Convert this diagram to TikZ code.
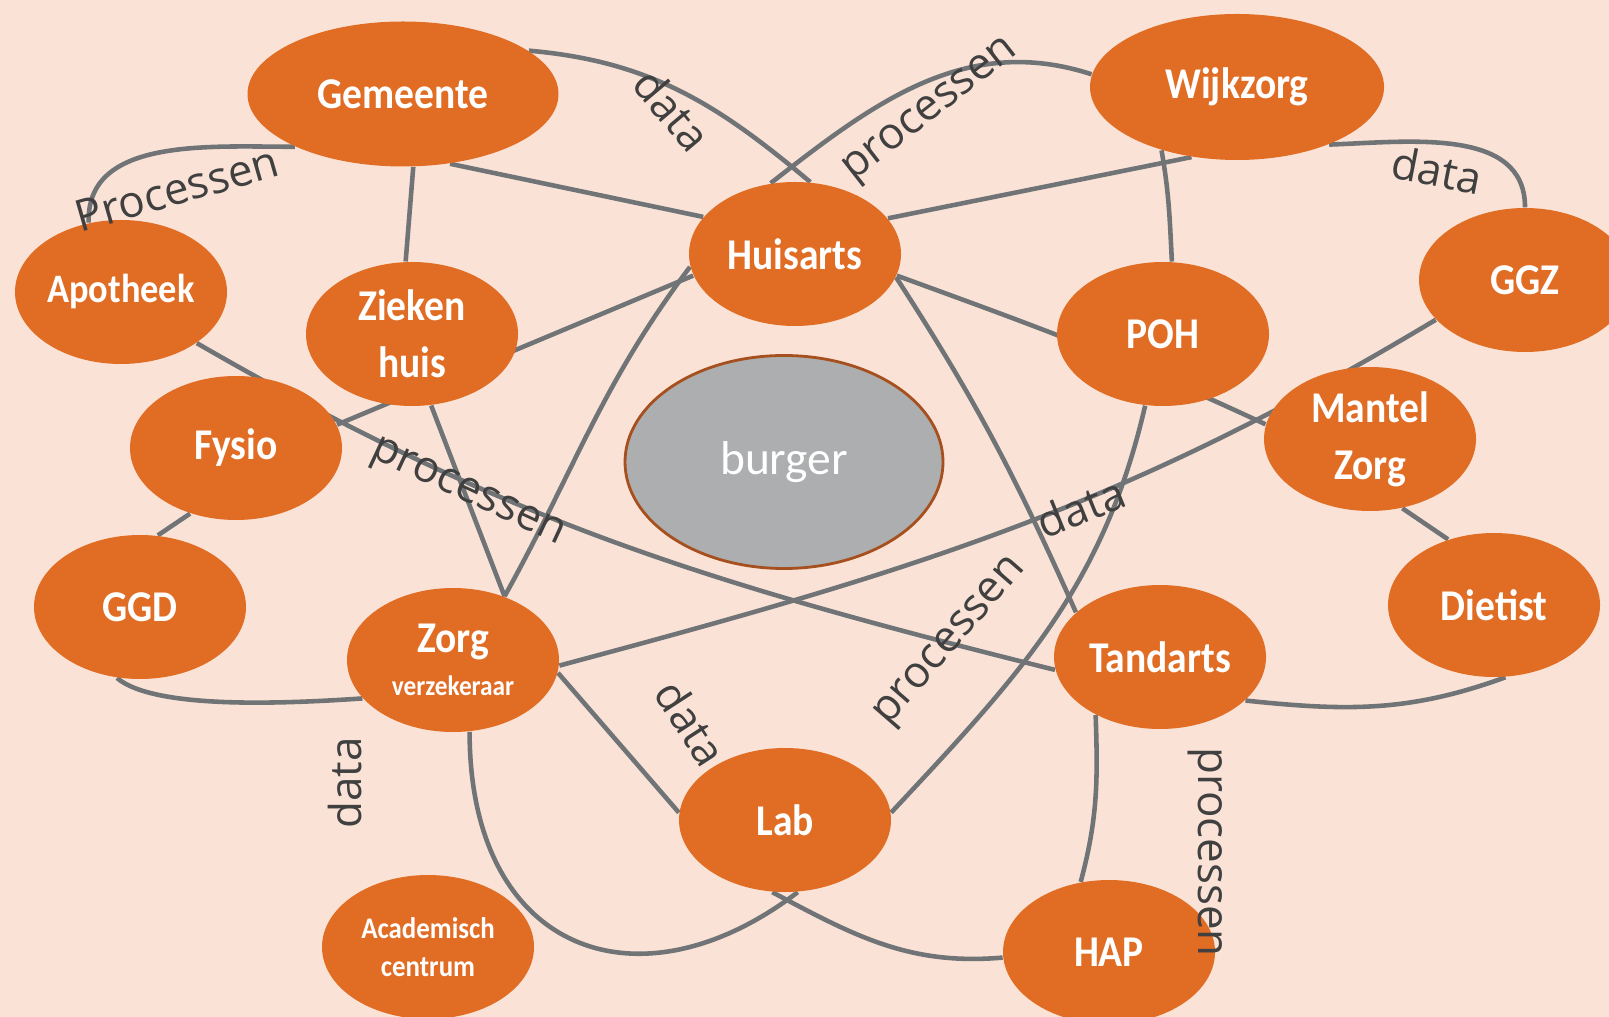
\documentclass[tikz,border=0pt]{standalone}
\usepackage{fontspec}
\usetikzlibrary{shapes.geometric,backgrounds}

\newfontfamily\nodefont{Carlito}[FakeStretch=0.9]
\newfontfamily\burgerfont{Carlito}
\newfontfamily\lblfont{Open Sans}

\definecolor{peach}{HTML}{FAE3D6}
\definecolor{careorange}{HTML}{E16C24}
\definecolor{burgergrey}{HTML}{ADAEB0}
\definecolor{burgerrim}{HTML}{A5501E}
\definecolor{linkgrey}{HTML}{707476}
\definecolor{lblgrey}{HTML}{404040}

\begin{document}
\begin{tikzpicture}[
  org/.style={ellipse,fill=careorange,text=white,inner sep=0pt,align=center,
              minimum width=2.12cm,minimum height=1.44cm,
              font=\nodefont\bfseries\fontsize{12.5}{16.2}\selectfont},
  burgerbox/.style={ellipse,fill=burgergrey,draw=burgerrim,line width=0.8pt,
              minimum width=3.18cm,minimum height=2.13cm,text=white,
              font=\burgerfont\fontsize{13.5}{16}\selectfont},
  link/.style={draw=linkgrey,line width=1.3pt},
  lbl/.style={text=lblgrey,inner sep=0pt,font=\lblfont\fontsize{12.5}{14}\selectfont}
]
  \useasboundingbox (0,0) rectangle (16.09,-10.17);

  % Nodes: burger in the middle, care parties around it
  \node[burgerbox] (bur) at (7.84,-4.62) {burger};
  \node[org,minimum width=3.11cm,minimum height=1.45cm] (gem) at (4.03,-0.94) {Gemeente};
  \node[org,minimum width=2.94cm,minimum height=1.46cm] (wij) at (12.37,-0.87) {Wijkzorg};
  \node[org] (hui) at (7.95,-2.54) {Huisarts};
  \node[org,font=\nodefont\bfseries\fontsize{11.5}{14}\selectfont] (apo) at (1.21,-2.92) {Apotheek};
  \node[org] (zie) at (4.12,-3.34) {Zieken\\huis};
  \node[org] (poh) at (11.63,-3.34) {POH};
  \node[org] (ggz) at (15.25,-2.80) {GGZ};
  \node[org] (fys) at (2.36,-4.48) {Fysio};
  \node[org] (man) at (13.70,-4.39) {Mantel\\Zorg};
  \node[org] (ggd) at (1.40,-6.07) {GGD};
  \node[org] (zor) at (4.53,-6.60) {Zorg\\[-4pt]{\fontsize{8}{9}\selectfont verzekeraar}};
  \node[org] (tan) at (11.60,-6.57) {Tandarts};
  \node[org] (die) at (14.94,-6.05) {Dietist};
  \node[org] (lab) at (7.85,-8.20) {Lab};
  \node[org,font=\nodefont\bfseries\fontsize{8.5}{11}\selectfont] (aca) at (4.28,-9.47) {Academisch\\centrum};
  \node[org] (hap) at (11.09,-9.52) {HAP};

  \begin{scope}[on background layer]
    \fill[peach] (0,0) rectangle (16.09,-10.17);

    % upper ring: Gemeente, Huisarts, Wijkzorg
    \draw[link] (gem.-56) -- (hui.158);
    \draw[link] (gem.-82) -- (zie.95);
    \draw[link] (gem.-154) to[out=180,in=92] (apo.115);
    \draw[link] (gem.19) to[out=-5,in=140] (hui.78);
    \draw[link] (wij.175) to[out=162,in=38] (hui.109);
    \draw[link] (hui.21) -- (wij.-123);
    \draw[link] (wij.-140) to[out=-80,in=93] (poh.83);
    \draw[link] (wij.-32) to[out=2,in=90] (ggz.90);

    % lines through the middle
    \draw[link] (hui.-12) to[out=-20,in=155] (man.172);
    \draw[link] (fys.13) -- (hui.-168);
    \draw[link] (hui.-173) to[out=-127,in=61] (zor.51);
    \draw[link] (hui.-13) to[out=-57,in=114] (tan.152);
    \draw[link] (zie.-75) -- (zor.51);
    \draw[link] (apo.-34) to[out=-30,in=166] (tan.-173);
    \draw[link] (ggz.-156) to[out=-149,in=15] (zor.-3);

    % outer short links
    \draw[link] (fys.-125) -- (ggd.76);
    \draw[link] (man.-65) -- (die.125);
    \draw[link] (ggd.-108) .. controls +(0.38,-0.32) and +(-0.75,-0.05) .. (zor.-157);
    \draw[link] (tan.-27) to[out=-6,in=200] (die.-81);

    % lower ring: Zorg, Lab, HAP
    \draw[link] (zor.-7) -- (lab.176);
    \draw[link] (lab.4) to[out=47,in=-103] (poh.-104);
    \draw[link] (tan.-138) to[out=-88,in=75] (hap.112);
    \draw[link] (zor.-77) .. controls +(0,-2.2) and +(-1.6,-1.22) .. (lab.-80);
    \draw[link] (hap.-177) to[out=185,in=-28] (lab.-100);
  \end{scope}

  % labels on the links
  \node[lbl,rotate=16]  (prA) at (1.77,-1.89)  {Processen};
  \node[lbl,rotate=-50] (daA) at (6.72,-1.10)  {data};
  \node[lbl,rotate=38]  (prB) at (9.32,-1.12)  {processen};
  \node[lbl,rotate=-11] (daB) at (14.37,-1.70) {data};
  \node[lbl,rotate=-25] (prC) at (4.67,-4.95)  {processen};
  \node[lbl,rotate=22]  (daC) at (10.81,-5.07) {data};
  \node[lbl,rotate=49]  (prD) at (9.52,-6.43)  {processen};
  \node[lbl,rotate=-57] (daD) at (6.91,-7.23)  {data};
  \node[lbl,rotate=90]  (daE) at (3.45,-7.83)  {data};
  \node[lbl,rotate=-90] (prE) at (12.05,-8.52) {processen};
\end{tikzpicture}
\end{document}
